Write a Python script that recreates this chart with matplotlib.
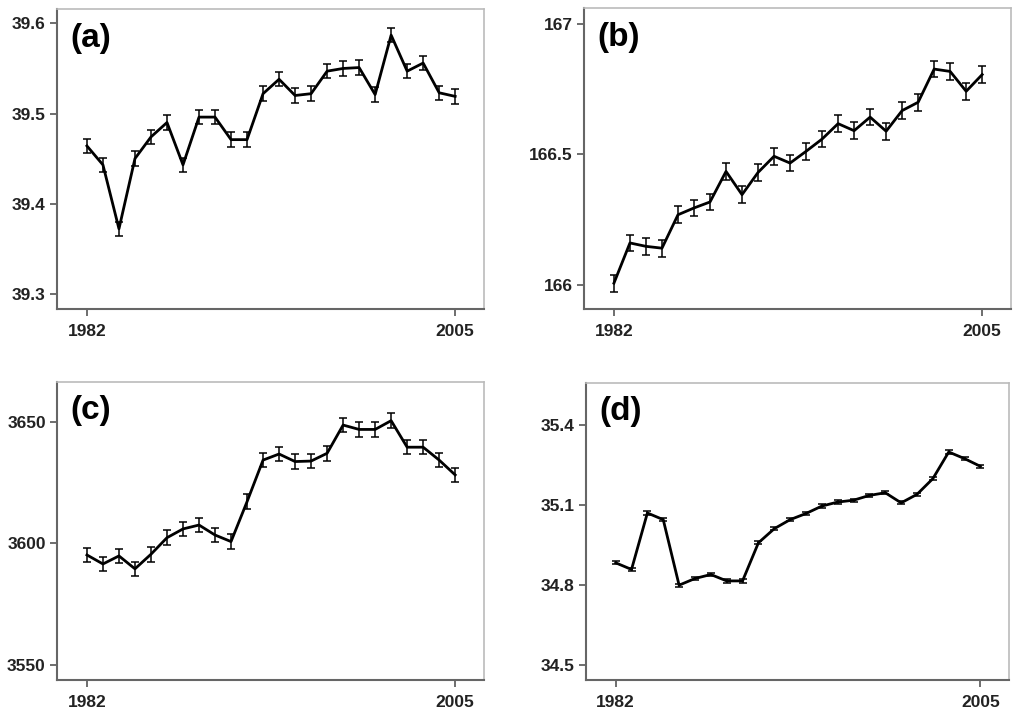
#!/usr/bin/env python3
"""Four-panel time series (1982-2005) with small error bars."""
import matplotlib.pyplot as plt

plt.rcParams['font.family'] = ['Liberation Sans', 'DejaVu Sans']
plt.rcParams['font.weight'] = 'bold'

YEARS = list(range(1982, 2006))

SERIES_A = [39.464, 39.443, 39.372, 39.450, 39.474, 39.490, 39.443, 39.496,
            39.496, 39.471, 39.471, 39.522, 39.538, 39.520, 39.522, 39.547,
            39.550, 39.551, 39.521, 39.587, 39.547, 39.556, 39.523, 39.519]
ERR_A = 0.008

SERIES_B = [166.006, 166.160, 166.147, 166.140, 166.268, 166.294, 166.317, 166.434,
            166.345, 166.430, 166.492, 166.466, 166.511, 166.558, 166.617, 166.590,
            166.642, 166.588, 166.667, 166.699, 166.826, 166.817, 166.741, 166.805]
ERR_B = 0.032

SERIES_C = [3595.2, 3591.5, 3594.8, 3589.5, 3595.5, 3602.3, 3605.9, 3607.5,
            3603.4, 3600.7, 3617.1, 3634.2, 3636.7, 3633.6, 3633.8, 3637.0,
            3648.6, 3646.8, 3646.8, 3650.4, 3639.5, 3639.5, 3634.2, 3628.1]
ERR_C = 3.0

SERIES_D = [34.884, 34.859, 35.071, 35.046, 34.800, 34.825, 34.840, 34.816,
            34.816, 34.959, 35.012, 35.046, 35.069, 35.097, 35.112, 35.119,
            35.137, 35.147, 35.109, 35.141, 35.200, 35.300, 35.275, 35.246]
ERR_D = 0.006

PANELS = [
    ('(a)', SERIES_A, ERR_A, [39.3, 39.4, 39.5, 39.6], ['39.3', '39.4', '39.5', '39.6'], (39.283, 39.616)),
    ('(b)', SERIES_B, ERR_B, [166, 166.5, 167], ['166', '166.5', '167'], (165.907, 167.06)),
    ('(c)', SERIES_C, ERR_C, [3550, 3600, 3650], ['3550', '3600', '3650'], (3543.8, 3666.3)),
    ('(d)', SERIES_D, ERR_D, [34.5, 34.8, 35.1, 35.4], ['34.5', '34.8', '35.1', '35.4'], (34.444, 35.559)),
]

# axes boxes in pixels (left, top, right, bottom) on a 1013x710 canvas
BOXES = [(57, 9, 484, 309), (584, 8, 1011, 309), (57, 382, 484, 680), (586, 383, 1009, 680)]

W, H = 1013, 710
fig = plt.figure(figsize=(W / 100, H / 100), dpi=100)

for (label, vals, err, yt, ytl, ylim), (l, t, r, b) in zip(PANELS, BOXES):
    ax = fig.add_axes([l / W, 1 - b / H, (r - l) / W, (b - t) / H])
    ax.errorbar(YEARS, vals, yerr=err, color='black', lw=2.0, elinewidth=1.1,
                capsize=2.8, capthick=1.1)
    ax.set_xlim(1980.13, 2006.8)
    ax.set_ylim(*ylim)
    ax.set_xticks([1982, 2005])
    ax.set_xticklabels(['1982', '2005'], fontsize=12.5, fontweight='bold', color='#222222')
    ax.set_yticks(yt)
    ax.set_yticklabels(ytl, fontsize=12.5, fontweight='bold', color='#222222')
    ax.tick_params(length=5, width=1.2, color='#555555', pad=3)
    ax.tick_params(axis='x', pad=6)
    for side in ['left', 'bottom']:
        ax.spines[side].set_color('#666666')
        ax.spines[side].set_linewidth(1.5)
    for side in ['top', 'right']:
        ax.spines[side].set_color('#bbbbbb')
        ax.spines[side].set_linewidth(1.2)
    ax.text(0.032, 0.955, label, transform=ax.transAxes, ha='left', va='top',
            fontsize=24, fontweight='bold')

fig.savefig('out.png', dpi=100)
